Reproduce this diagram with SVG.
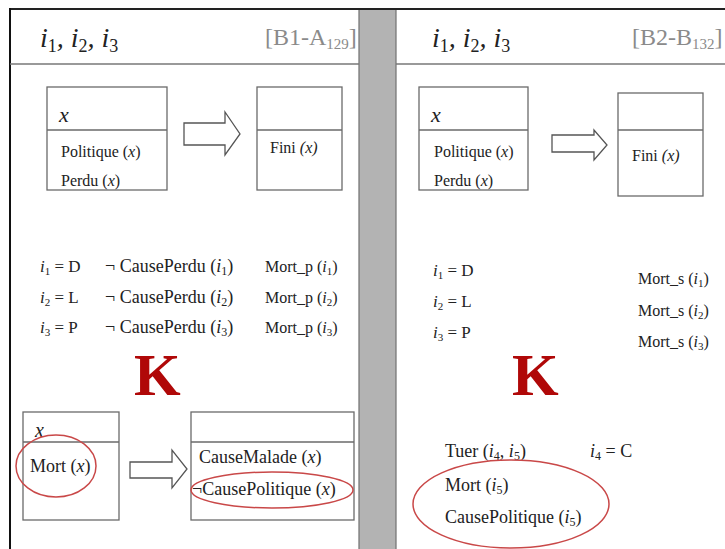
<svg xmlns="http://www.w3.org/2000/svg" width="725" height="549" viewBox="0 0 725 549">
<style>
text{font-family:"Liberation Serif","Times New Roman",serif;fill:#222}
.it{font-style:italic}
.box{fill:#fff;stroke:#6a6a6a;stroke-width:1.3}
.div{stroke:#6a6a6a;stroke-width:1.3}
.arr{fill:#fff;stroke:#555;stroke-width:1.3}
.hl{fill:none;stroke:#c94848;stroke-width:1.5}
.hdr{fill:#8a8a8a}
.k{font-weight:bold;fill:#b00808;font-size:60px}
.t15{font-size:16px}
.t16{font-size:16px}
.t17{font-size:17px}
.t18{font-size:18px}
</style>
<rect width="725" height="549" fill="#fff"/>
<g id="frame">
<rect x="359" y="9" width="37" height="545" fill="#b3b3b3" stroke="#707070" stroke-width="1.2"/>
<line x1="9" y1="9" x2="725" y2="9" stroke="#222" stroke-width="2"/>
<line x1="10" y1="8" x2="10" y2="549" stroke="#111" stroke-width="2"/>
<line x1="10" y1="64" x2="359" y2="64" stroke="#777" stroke-width="1.5"/>
<line x1="396" y1="64" x2="725" y2="64" stroke="#777" stroke-width="1.5"/>
</g>
<g id="header-left">
<text x="40" y="47" class="it" font-size="28">i<tspan font-size="18" dy="5" font-style="normal">1</tspan><tspan dy="-5">, i</tspan><tspan font-size="18" dy="5" font-style="normal">2</tspan><tspan dy="-5">, i</tspan><tspan font-size="18" dy="5" font-style="normal">3</tspan></text>
<text x="265" y="45" class="hdr" font-size="24">[B1-A<tspan font-size="15" dy="4">129</tspan><tspan dy="-4">]</tspan></text>
</g>
<g id="header-right">
<text x="432" y="47" class="it" font-size="28">i<tspan font-size="18" dy="5" font-style="normal">1</tspan><tspan dy="-5">, i</tspan><tspan font-size="18" dy="5" font-style="normal">2</tspan><tspan dy="-5">, i</tspan><tspan font-size="18" dy="5" font-style="normal">3</tspan></text>
<text x="632" y="45" class="hdr" font-size="24">[B2-B<tspan font-size="15" dy="4">132</tspan><tspan dy="-4">]</tspan></text>
</g>
<g id="connectors">
<polygon class="arr" points="184,123 225,123 225,112 240,134 225,155 225,145 184,145"/>
<polygon class="arr" points="552,135 594,135 594,130 607,145 594,160 594,152 552,152"/>
<polygon class="arr" points="130,462 172,462 172,450 187,469 172,488 172,478 130,478"/>
</g>
<g id="box-left-1">
<rect class="box" x="47" y="87" width="120" height="103"/>
<line class="div" x1="47" y1="130" x2="167" y2="130"/>
<text x="59" y="122" class="it" font-size="22">x</text>
<text x="61" y="157" class="t15">Politique (<tspan class="it">x</tspan>)</text>
<text x="61" y="186" class="t15">Perdu (<tspan class="it">x</tspan>)</text>
</g>
<g id="box-left-2">
<rect class="box" x="257" y="87" width="85" height="103"/>
<line class="div" x1="257" y1="130" x2="342" y2="130"/>
<text x="270" y="153" class="t16">Fini <tspan class="it">(x)</tspan></text>
</g>
<g id="box-right-1">
<rect class="box" x="419" y="87" width="109" height="103"/>
<line class="div" x1="419" y1="130" x2="528" y2="130"/>
<text x="431" y="122" class="it" font-size="22">x</text>
<text x="434" y="157" class="t15">Politique (<tspan class="it">x</tspan>)</text>
<text x="434" y="186" class="t15">Perdu (<tspan class="it">x</tspan>)</text>
</g>
<g id="box-right-2">
<rect class="box" x="618" y="93" width="85" height="103"/>
<line class="div" x1="618" y1="130" x2="703" y2="130"/>
<text x="632" y="161" class="t16">Fini <tspan class="it">(x)</tspan></text>
</g>
<g id="facts-left">
<text x="40" y="272" class="t17"><tspan class="it">i</tspan><tspan font-size="11" dy="3">1</tspan><tspan dy="-3"> = D</tspan></text>
<text x="40" y="303" class="t17"><tspan class="it">i</tspan><tspan font-size="11" dy="3">2</tspan><tspan dy="-3"> = L</tspan></text>
<text x="40" y="333" class="t17"><tspan class="it">i</tspan><tspan font-size="11" dy="3">3</tspan><tspan dy="-3"> = P</tspan></text>
<text x="105" y="272" class="t18">¬ CausePerdu (<tspan class="it">i</tspan><tspan font-size="12" dy="3">1</tspan><tspan dy="-3">)</tspan></text>
<text x="105" y="303" class="t18">¬ CausePerdu (<tspan class="it">i</tspan><tspan font-size="12" dy="3">2</tspan><tspan dy="-3">)</tspan></text>
<text x="105" y="333" class="t18">¬ CausePerdu (<tspan class="it">i</tspan><tspan font-size="12" dy="3">3</tspan><tspan dy="-3">)</tspan></text>
<text x="265" y="272" class="t16">Mort_p (<tspan class="it">i</tspan><tspan font-size="11" dy="3">1</tspan><tspan dy="-3">)</tspan></text>
<text x="265" y="303" class="t16">Mort_p (<tspan class="it">i</tspan><tspan font-size="11" dy="3">2</tspan><tspan dy="-3">)</tspan></text>
<text x="265" y="333" class="t16">Mort_p (<tspan class="it">i</tspan><tspan font-size="11" dy="3">3</tspan><tspan dy="-3">)</tspan></text>
</g>
<g id="facts-right">
<text x="433" y="276" class="t17"><tspan class="it">i</tspan><tspan font-size="11" dy="3">1</tspan><tspan dy="-3"> = D</tspan></text>
<text x="433" y="307" class="t17"><tspan class="it">i</tspan><tspan font-size="11" dy="3">2</tspan><tspan dy="-3"> = L</tspan></text>
<text x="433" y="338" class="t17"><tspan class="it">i</tspan><tspan font-size="11" dy="3">3</tspan><tspan dy="-3"> = P</tspan></text>
<text x="638" y="284" class="t16">Mort_s (<tspan class="it">i</tspan><tspan font-size="11" dy="3">1</tspan><tspan dy="-3">)</tspan></text>
<text x="638" y="316" class="t16">Mort_s (<tspan class="it">i</tspan><tspan font-size="11" dy="3">2</tspan><tspan dy="-3">)</tspan></text>
<text x="638" y="347" class="t16">Mort_s (<tspan class="it">i</tspan><tspan font-size="11" dy="3">3</tspan><tspan dy="-3">)</tspan></text>
</g>
<g id="k-left"><text x="134" y="395" class="k">K</text></g>
<g id="k-right"><text x="512" y="395" class="k">K</text></g>
<g id="box-left-3">
<rect class="box" x="23" y="412" width="96" height="108"/>
<line class="div" x1="23" y1="442" x2="119" y2="442"/>
<text x="35" y="437" class="it" font-size="20">x</text>
<text x="30" y="472" class="t18">Mort (<tspan class="it">x</tspan>)</text>
<ellipse class="hl" cx="56" cy="466" rx="40" ry="31"/>
</g>
<g id="box-left-4">
<rect class="box" x="191" y="412" width="163" height="108"/>
<line class="div" x1="191" y1="442" x2="354" y2="442"/>
<text x="199" y="463" class="t18">CauseMalade (<tspan class="it">x</tspan>)</text>
<text x="192" y="495" class="t18">¬CausePolitique (<tspan class="it">x</tspan>)</text>
<ellipse class="hl" cx="272" cy="490" rx="81" ry="18"/>
</g>
<g id="facts-right-bottom">
<text x="445" y="457" class="t18">Tuer (<tspan class="it">i</tspan><tspan font-size="12" dy="3">4</tspan><tspan dy="-3">, </tspan><tspan class="it">i</tspan><tspan font-size="12" dy="3">5</tspan><tspan dy="-3">)</tspan></text>
<text x="590" y="457" class="t18"><tspan class="it">i</tspan><tspan font-size="12" dy="3">4</tspan><tspan dy="-3"> = C</tspan></text>
<text x="445" y="491" class="t18">Mort (<tspan class="it">i</tspan><tspan font-size="12" dy="3">5</tspan><tspan dy="-3">)</tspan></text>
<text x="445" y="523" class="t18">CausePolitique (<tspan class="it">i</tspan><tspan font-size="12" dy="3">5</tspan><tspan dy="-3">)</tspan></text>
<ellipse class="hl" cx="511" cy="504" rx="98" ry="44"/>
</g>
</svg>
